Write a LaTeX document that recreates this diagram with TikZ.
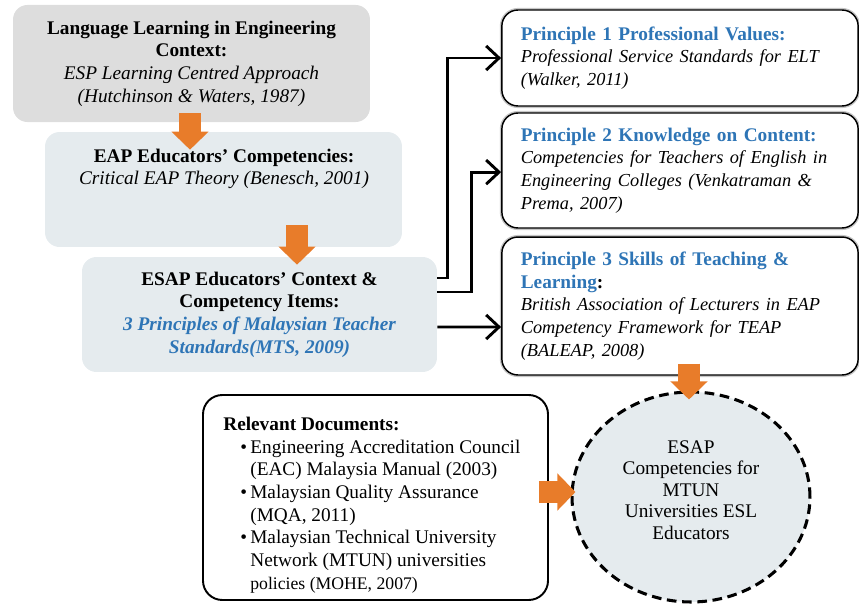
\documentclass[tikz,border=0pt]{standalone}
\usepackage{fontspec}
\setmainfont{Liberation Serif}
\usetikzlibrary{positioning, arrows.meta, shapes.geometric}
\definecolor{boxgray}{RGB}{221,221,221}
\definecolor{boxblue}{RGB}{229,235,238}
\definecolor{headblue}{RGB}{46,117,182}
\definecolor{flow}{RGB}{232,124,42}
\newcommand*{\docbullet}{\hspace*{10.6pt}\makebox[6.2pt][l]{\textbullet}}
\newcommand*{\docindent}{\hspace*{16.8pt}}
\newcommand*{\refline}[1]{{\fontsize{11.4}{14.4}\selectfont\itshape #1}}

\begin{document}
\begin{tikzpicture}[x=0.622pt, y=-0.622pt,
  every node/.style={font=\fontsize{12}{14.1}\selectfont},
  stagebox/.style={rounded corners=9pt, minimum width=222pt, minimum height=71.5pt, align=center},
  principle/.style={rounded corners=10pt, fill=white, draw=black, line width=0.9pt,
    preaction={draw=gray!45, line width=2.6pt},
    minimum width=221.4pt, text width=198pt, inner xsep=11.8pt, align=left},
  flowarrow/.style={draw=flow, line width=13.7pt, -{Triangle[width=22.4pt,length=11.2pt]}},
  linkarrow/.style={line width=1.8pt, -{Straight Barb[length=8pt,width=15pt]}}]

\useasboundingbox (0,0) rectangle (859,608);

\node (LLBox) [stagebox, fill=boxgray, minimum height=72.8pt] at (191.5,63.5)
  {\textbf{Language Learning in Engineering}\\ \textbf{Context:}\\
   \textit{ESP Learning Centred Approach}\\ \textit{(Hutchinson \& Waters, 1987)}};
\node (EAPBox) [stagebox, fill=boxblue] at (223.5,189.5) {};
\node (EAPText) [align=center] at (224,169)
  {\textbf{EAP Educators' Competencies:}\\ \textit{Critical EAP Theory (Benesch, 2001)}};
\node (ESAPBox) [stagebox, fill=boxblue, minimum width=220.8pt] at (259.5,314.5)
  {\textbf{ESAP Educators' Context \&}\\ \textbf{Competency Items:}\\
   {\color{headblue}\bfseries\itshape 3 Principles of Malaysian Teacher}\\
   {\color{headblue}\bfseries\itshape Standards(MTS, 2009)}};

\node (P1) [principle, minimum height=59.7pt] at (680,58)
  {{\color{headblue}\bfseries Principle 1 Professional Values:}\\
   \refline{Professional Service Standards for ELT}\\ \refline{(Walker, 2011)}};
\node (P2) [principle, minimum height=71.5pt] at (680,170.5)
  {{\color{headblue}\bfseries Principle 2 Knowledge on Content:}\\
   \refline{Competencies for Teachers of English in}\\
   \refline{Engineering Colleges (Venkatraman \&}\\ \refline{Prema, 2007)}};
\node (P3) [principle, minimum height=85.8pt] at (680,306)
  {{\color{headblue}\bfseries Principle 3 Skills of Teaching \&}\\
   {\color{headblue}\bfseries Learning}\textbf{:}\\
   \refline{British Association of Lecturers in EAP}\\
   \refline{Competency Framework for TEAP}\\ \refline{(BALEAP, 2008)}};

\node (DocBox) [draw, line width=1.2pt, rounded corners=12pt, minimum width=214.6pt, minimum height=127.5pt] at (375.5,497.5) {};
\node (DocText) [anchor=west, inner sep=0pt, align=left] at (223,505)
  {\textbf{Relevant Documents:}\\
   \docbullet Engineering Accreditation Council\\
   \docindent (EAC) Malaysia Manual (2003)\\
   \docbullet Malaysian Quality Assurance\\
   \docindent (MQA, 2011)\\
   \docbullet Malaysian Technical University\\
   \docindent Network (MTUN) universities\\
   \docindent{\fontsize{11}{14.1}\selectfont policies (MOHE, 2007)}};

\node (Goal) [ellipse, draw, fill=boxblue, line width=1.9pt, dash pattern=on 6pt off 3.5pt,
  minimum width=148pt, minimum height=130.6pt, inner sep=0pt, align=center,
  font=\fontsize{12}{13.4}\selectfont] at (691,497)
  {ESAP\\ Competencies for\\ MTUN\\ Universities ESL\\ Educators\\[-4.6pt]};

\draw[flowarrow] ([shift={(-1.5,-9)}]LLBox.south) -- ([shift={(-33.5,18)}]EAPBox.north);
\draw[flowarrow] ([shift={(73.5,-22)}]EAPBox.south) -- ([shift={(37.5,8)}]ESAPBox.north);
\draw[flowarrow] ([shift={(9,-12)}]P3.south) -- ([shift={(-2,9)}]Goal.north);
\draw[flowarrow] ([shift={(-10,-5.5)}]DocBox.east) -- ([shift={(5,-5)}]Goal.west);

\draw[linkarrow] ([shift={(0,-36.5)}]ESAPBox.east) -- ++(10,0) |- (P1.west);
\draw[linkarrow] ([shift={(0,-22.5)}]ESAPBox.east) -- ++(34,0) |- ([yshift=-1pt]P2.west);
\draw[linkarrow] ([shift={(0,12.5)}]ESAPBox.east) -- ([shift={(0,21)}]P3.west);

\end{tikzpicture}
\end{document}
